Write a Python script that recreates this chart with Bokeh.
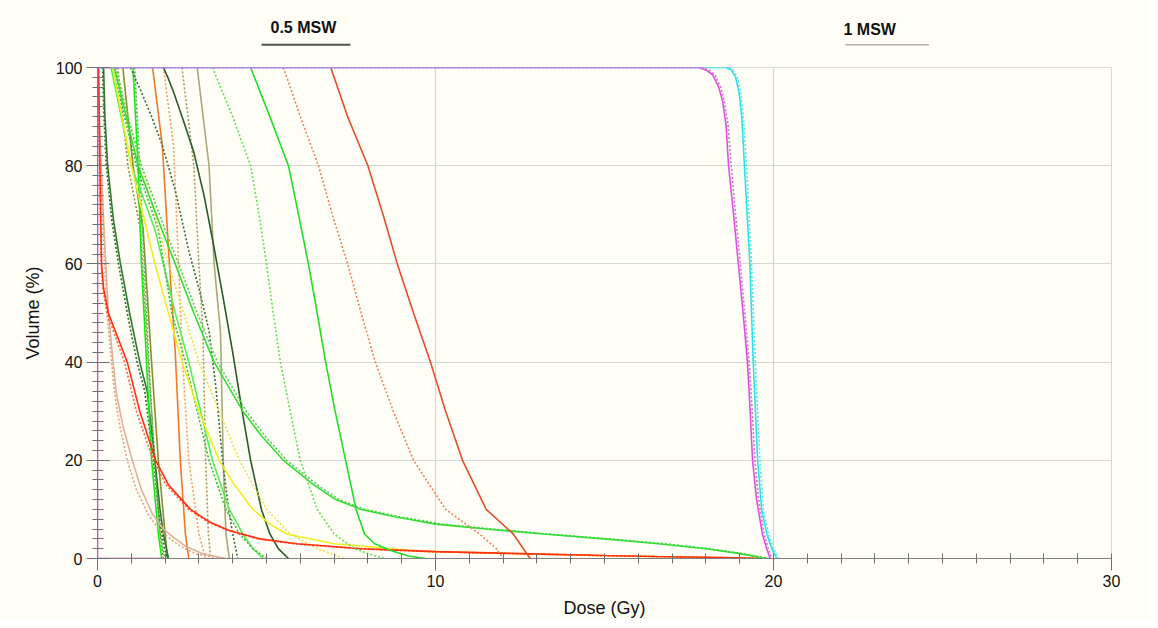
from bokeh.plotting import figure
from bokeh.layouts import column
from bokeh.models import Range1d, SingleIntervalTicker
from bokeh.core.properties import value
from bokeh.embed import file_html
from bokeh.resources import INLINE

# ---------------- data (dose in Gy at given volume %) ----------------
ptv_vol = [100, 100, 99.5, 98.5, 96, 93, 88, 80, 70, 60, 50, 40, 30, 20, 12, 5, 2, 0]
ptv_s_dose = [0, 17.8, 18.0, 18.2, 18.38, 18.5, 18.6, 18.67, 18.82, 18.96, 19.1, 19.23, 19.31,
              19.38, 19.5, 19.67, 19.8, 19.9]
ptv_d_dose = [0, 17.9, 18.08, 18.27, 18.44, 18.55, 18.66, 18.75, 18.88, 19.02, 19.15, 19.28,
              19.37, 19.45, 19.56, 19.72, 19.85, 19.95]

cyan_vol = [100, 100, 99.5, 98, 95, 90, 80, 60, 40, 20, 10, 5, 2, 0]
cyan_s_dose = [0, 18.6, 18.75, 18.88, 18.98, 19.06, 19.14, 19.3, 19.4, 19.53, 19.65, 19.8, 19.95, 20.1]
cyan_d_dose = [0, 18.65, 18.8, 18.93, 19.03, 19.11, 19.2, 19.35, 19.46, 19.6, 19.7, 19.85, 20.0, 20.15]

c_vol = [100, 90, 80, 70, 60, 50, 40, 30, 20, 10, 5, 2, 0]
c_s_dose = [6.9, 7.4, 8.0, 8.45, 8.87, 9.35, 9.85, 10.3, 10.8, 11.5, 12.3, 12.6, 12.8]
c_d_dose = [5.5, 6.0, 6.54, 6.95, 7.4, 7.8, 8.22, 8.75, 9.35, 10.3, 11.3, 11.8, 12.0]

d_s_vol = [100, 90, 80, 70, 60, 50, 40, 30, 20, 10, 5, 3, 1.6, 0.5, 0]
d_s_dose = [4.53, 5.1, 5.65, 5.95, 6.24, 6.5, 6.75, 7.03, 7.34, 7.65, 7.9, 8.2, 8.7, 9.2, 9.7]
d_d_vol = [100, 90, 80, 70, 60, 50, 40, 30, 20, 10, 5, 2, 1, 0]
d_d_dose = [3.4, 4.0, 4.53, 4.78, 5.0, 5.2, 5.41, 5.7, 6.0, 6.5, 7.0, 7.6, 8.0, 8.5]

lt_vol = [100, 90, 80, 67, 60, 50, 40, 30, 25, 20, 15, 12, 10, 8.5, 7, 6, 5, 4, 3, 2, 1, 0]
lt_s_dose = [0.5, 0.85, 1.2, 1.9, 2.3, 2.85, 3.45, 4.3, 4.85, 5.5, 6.4, 7.05, 7.8, 8.8, 10.0,
             11.5, 13.2, 15.0, 16.6, 18.0, 19.0, 19.8]
lt_d_dose = [0.55, 0.9, 1.3, 2.0, 2.4, 2.95, 3.55, 4.4, 4.95, 5.6, 6.5, 7.15, 7.9, 8.95, 10.2,
             11.7, 13.3, 15.1, 16.8, 18.1, 19.1, 19.85]

mg_vol = [100, 80, 67, 50, 40, 30, 20, 10, 5, 2, 0]
mg_s_dose = [0.4, 1.0, 1.7, 2.3, 2.7, 3.05, 3.4, 3.9, 4.3, 4.6, 4.9]
mg_d_dose = [0.45, 1.15, 1.8, 2.2, 2.6, 2.95, 3.3, 3.8, 4.2, 4.6, 5.0]

h_vol = [100, 80, 60, 40, 20, 5, 0]
h_s_dose = [1.05, 1.2, 1.3, 1.45, 1.6, 1.8, 1.9]
h_d_dose = [1.1, 1.25, 1.38, 1.52, 1.68, 1.85, 2.0]

k_vol = [100, 90, 80, 69, 60, 50, 40, 34, 20, 10, 5, 0]
k_s_dose = [0.18, 0.22, 0.3, 0.47, 0.68, 0.95, 1.25, 1.47, 1.7, 1.85, 1.95, 2.1]
k_d_dose = [0.15, 0.19, 0.26, 0.42, 0.62, 0.88, 1.17, 1.4, 1.65, 1.8, 1.9, 2.05]

ol_vol = [100, 80, 67, 40, 20, 5, 0]
ol_s_dose = [0.75, 1.05, 1.35, 1.6, 1.8, 2.0, 2.07]
ol_d_dose = [0.6, 0.9, 1.27, 1.5, 1.7, 1.85, 1.95]

g_vol = [100, 84, 63, 42, 20, 5, 0]
g_s_dose = [1.63, 1.92, 2.1, 2.3, 2.45, 2.6, 2.7]
g_d_dose = [1.95, 2.25, 2.38, 2.5, 2.7, 3.0, 3.2]

e_vol = [100, 80, 60, 46, 20, 5, 0]
e_s_dose = [2.95, 3.3, 3.45, 3.64, 3.72, 3.8, 3.9]
e_d_dose = [2.5, 2.85, 3.0, 3.12, 3.2, 3.28, 3.35]

f_s_vol = [100, 98, 95, 90, 83, 74, 64, 53, 42, 30, 20, 10, 5, 2, 0]
f_s_dose = [1.95, 2.08, 2.25, 2.5, 2.84, 3.15, 3.43, 3.72, 4.0, 4.28, 4.53, 4.85, 5.1, 5.35, 5.65]
f_d_vol = [100, 98, 95, 90, 84.5, 75, 62.7, 55, 46.4, 35, 20, 10, 5, 0]
f_d_dose = [0.98, 1.1, 1.3, 1.6, 1.9, 2.3, 2.7, 3.0, 3.3, 3.5, 3.7, 3.88, 4.0, 4.15]

r_vol = [100, 80, 60, 55, 50, 45, 40, 30, 20, 15, 10, 7.5, 5.7, 4, 3, 2, 1.4, 1, 0.6, 0.4, 0.2, 0]
r_s_dose = [0.03, 0.07, 0.12, 0.18, 0.32, 0.6, 0.88, 1.25, 1.72, 2.1, 2.75, 3.3, 3.9, 4.8, 5.9,
            7.8, 10.0, 12.5, 15.0, 16.5, 18.5, 19.8]
r_d_dose = [0.03, 0.06, 0.11, 0.16, 0.28, 0.54, 0.8, 1.15, 1.65, 2.03, 2.7, 3.25, 3.85, 4.75,
            5.8, 7.7, 9.8, 12.3, 14.8, 16.3, 18.3, 19.7]

y_s_vol = [100, 80, 60, 40, 30, 20, 15, 10, 7, 5, 3, 1.5, 0.7, 0.2, 0]
y_s_dose = [0.45, 1.0, 1.7, 2.5, 3.0, 3.6, 4.05, 4.6, 5.1, 5.6, 7.0, 9.5, 14.0, 18.0, 19.6]
y_d_vol = [100, 80, 60, 40, 30, 20, 10, 5, 2, 0]
y_d_dose = [0.5, 1.3, 2.1, 3.0, 3.6, 4.2, 5.0, 5.7, 6.5, 7.3]

p_vol = [100, 85, 69, 50, 34, 27, 20, 14, 9, 6, 4.3, 2.5, 1, 0]
p_s_dose = [0.02, 0.08, 0.18, 0.32, 0.55, 0.75, 1.03, 1.3, 1.63, 1.95, 2.25, 2.6, 3.1, 3.8]
p_d_dose = [0.02, 0.06, 0.15, 0.28, 0.5, 0.66, 0.88, 1.15, 1.5, 1.8, 2.1, 2.45, 2.9, 3.6]

z_vol = [100, 0, 0]
z_dose = [0, 0, 1.95]

x_ticks_major = 10
y_ticks_major = 20

BG = "#fffef6"
FONT = "Liberation Sans"

# (dose, vol, color, dotted)
curves = [
    (ol_s_dose, ol_vol, "#8a8a30", False), (ol_d_dose, ol_vol, "#9a8a40", True),
    (k_s_dose, k_vol, "#2a7a2a", False), (k_d_dose, k_vol, "#2a6a2a", True),
    (h_s_dose, h_vol, "#11ee11", False), (h_d_dose, h_vol, "#44bb44", True),
    (g_s_dose, g_vol, "#f07828", False), (g_d_dose, g_vol, "#f0a060", True),
    (e_s_dose, e_vol, "#a8a878", False), (e_d_dose, e_vol, "#a09a60", True),
    (f_s_dose, f_s_vol, "#2a5a2a", False), (f_d_dose, f_d_vol, "#3a6a3a", True),
    (mg_s_dose, mg_vol, "#55ee55", False), (mg_d_dose, mg_vol, "#33bb33", True),
    (y_d_dose, y_d_vol, "#e8e040", True), (y_s_dose, y_s_vol, "#eeee20", False),
    (p_s_dose, p_vol, "#e0b098", False), (p_d_dose, p_vol, "#e0a080", True),
    (r_d_dose, r_vol, "#ff6040", True), (r_s_dose, r_vol, "#ff3010", False),
    (lt_d_dose, lt_vol, "#55cc55", True), (lt_s_dose, lt_vol, "#33dd33", False),
    (d_d_dose, d_d_vol, "#66dd55", True), (d_s_dose, d_s_vol, "#22dd22", False),
    (c_d_dose, c_vol, "#e8805a", True), (c_s_dose, c_vol, "#e0502a", False),
    (cyan_d_dose, cyan_vol, "#50e8e8", True), (cyan_s_dose, cyan_vol, "#30e0e8", False),
    (ptv_d_dose, ptv_vol, "#d070d8", True), (ptv_s_dose, ptv_vol, "#e050e0", False),
    (z_dose, z_vol, "#d040d0", False),
]

# ---------------- legend strip (frame aligned with main frame: x = page px) ----------------
leg = figure(width=1150, height=57, x_range=Range1d(97, 1111), y_range=Range1d(0, 57),
             toolbar_location=None, output_backend="svg", x_axis_type=None, y_axis_type=None,
             min_border=0)
leg.background_fill_color = BG
leg.border_fill_color = BG
leg.outline_line_color = None
leg.xgrid.visible = False
leg.ygrid.visible = False
leg.text(x=[270], y=[30.5], text=["0.5 MSW"], text_font=value(FONT), text_font_size="16px",
         text_font_style="bold", text_baseline="middle", text_color="#111111")
leg.line(x=[261, 350], y=[12.7, 12.7], line_color="#555555", line_width=2)
leg.text(x=[843], y=[28.2], text=["1 MSW"], text_font=value(FONT), text_font_size="16px",
         text_font_style="bold", text_baseline="middle", text_color="#111111")
leg.line(x=[845, 928], y=[12.7, 12.7], line_color="#666666", line_width=1.5, line_dash="1 1")

# ---------------- main plot ----------------
p = figure(width=1150, height=563, x_range=Range1d(0, 30), y_range=Range1d(0, 100),
           toolbar_location=None, output_backend="svg",
           min_border_left=97, min_border_right=39, min_border_top=10, min_border_bottom=62)
p.background_fill_color = BG
p.border_fill_color = BG
p.outline_line_color = "#d8d8d8"

p.xaxis.ticker = SingleIntervalTicker(interval=x_ticks_major, num_minor_ticks=10)
p.yaxis.ticker = SingleIntervalTicker(interval=y_ticks_major, num_minor_ticks=10)
p.xgrid.ticker = p.xaxis.ticker
p.ygrid.ticker = p.yaxis.ticker
p.grid.grid_line_color = "#d6d6d6"
p.grid.grid_line_width = 1.2

for ax in (p.xaxis, p.yaxis):
    ax.axis_line_color = "#808080"
    ax.major_tick_line_color = "#707070"
    ax.minor_tick_line_color = "#707070"
    ax.major_label_text_font = FONT
    ax.major_label_text_font_size = "16px"
    ax.major_label_text_color = "#111111"
    ax.axis_label_text_font = FONT
    ax.axis_label_text_font_size = "18px"
    ax.axis_label_text_font_style = "normal"
    ax.axis_label_text_color = "#111111"

p.xaxis.axis_label = "Dose (Gy)"
p.yaxis.axis_label = "Volume (%)"
p.xaxis.major_tick_out = 12
p.xaxis.major_tick_in = 0
p.xaxis.minor_tick_out = 5
p.xaxis.minor_tick_in = 5
p.xaxis.major_label_standoff = 4
p.xaxis.axis_label_standoff = 8
p.yaxis.major_tick_out = 11
p.yaxis.major_tick_in = 12
p.yaxis.minor_tick_out = 5
p.yaxis.minor_tick_in = 6
p.yaxis.major_label_standoff = 4
p.yaxis.axis_label_standoff = 10

for dose, vol, col, dotted in curves:
    if dotted:
        p.line(dose, vol, line_color=col, line_width=1.6, line_dash="2 2")
    else:
        p.line(dose, vol, line_color=col, line_width=1.6)

layout = column(leg, p, spacing=0)
layout.background = BG
open("out.html", "w").write(file_html(layout, INLINE))
